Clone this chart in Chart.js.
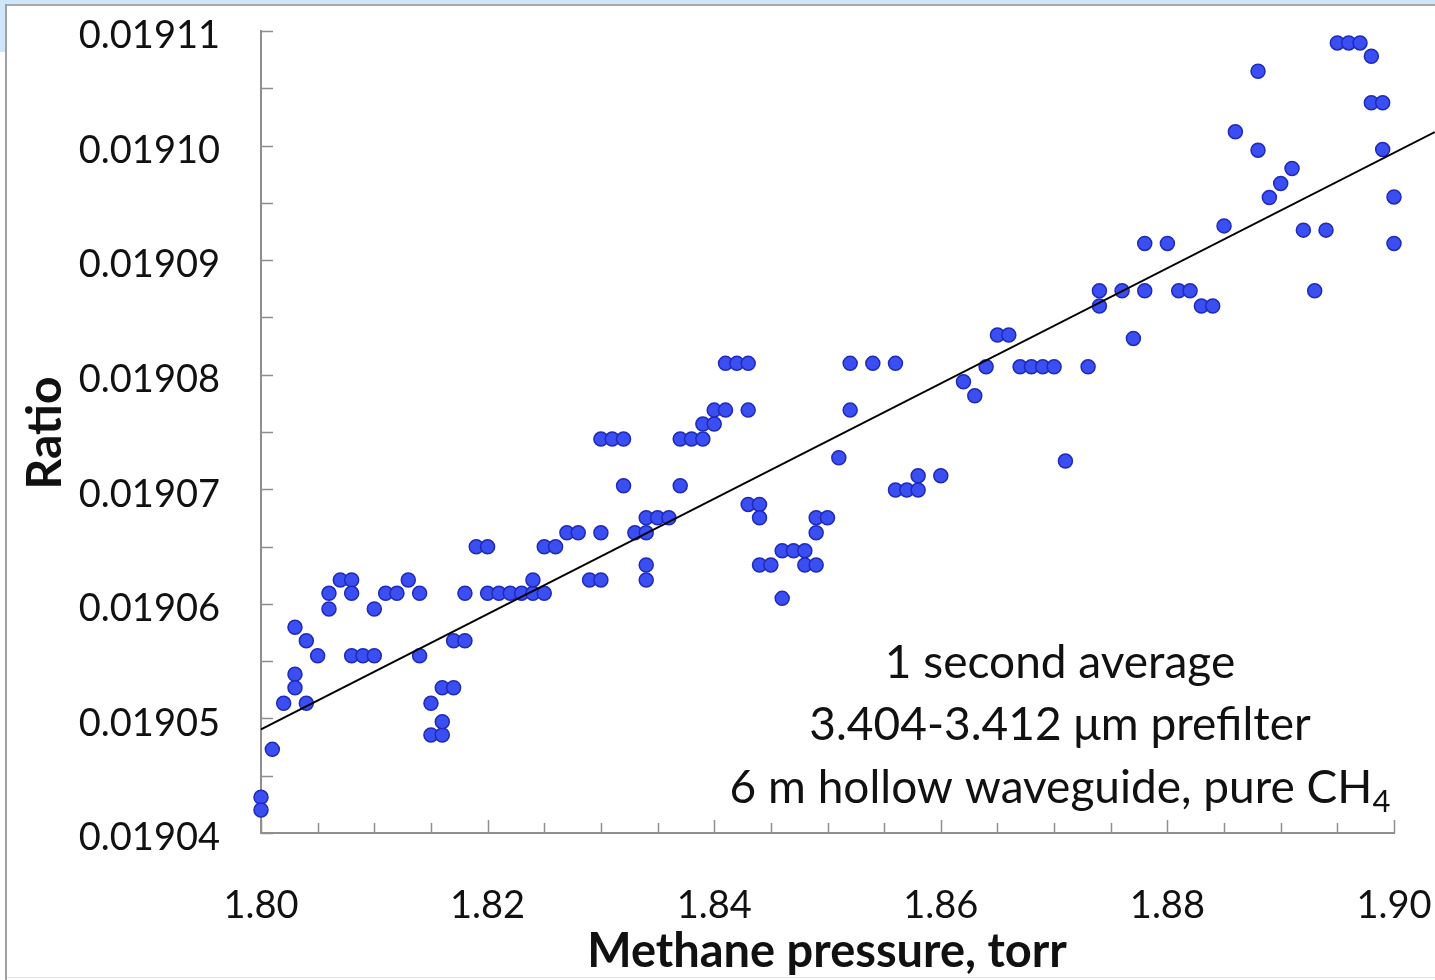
<!DOCTYPE html>
<html><head><meta charset="utf-8">
<script src="https://cdn.jsdelivr.net/npm/chart.js@4.4.1/dist/chart.umd.min.js"></script>
<style>
html,body{margin:0;padding:0;background:#fff;overflow:hidden}
#wrap{position:relative;width:1435px;height:980px}
canvas{position:absolute;left:0;top:0}
.f{position:absolute;pointer-events:none}
</style></head><body>
<div id="wrap">
<canvas id="c" width="1435" height="980"></canvas>
<div class="f" style="left:0;top:0;width:1435px;height:4px;background:#cfe6fa"></div>
<div class="f" style="left:0;top:0;width:5px;height:52px;background:#cfe6fa"></div>
<div class="f" style="left:5px;top:4px;width:1430px;height:2px;background:#a9a9a9"></div>
<div class="f" style="left:5px;top:4px;width:2px;height:976px;background:#a0a0a0"></div>
<div class="f" style="left:7px;top:977px;width:1428px;height:1px;background:#e2e2e2"></div>
</div>
<script>
const pressure = [
1.800,1.800,1.801,1.802,1.803,1.803,1.803,1.804,1.804,1.805,
1.806,1.806,1.807,1.808,1.808,1.808,1.809,1.810,1.810,1.811,
1.812,1.813,1.814,1.814,1.815,1.815,1.816,1.816,1.816,1.817,
1.817,1.818,1.818,1.819,1.820,1.820,1.821,1.822,1.823,1.824,
1.824,1.825,1.825,1.826,1.827,1.828,1.829,1.830,1.830,1.830,
1.831,1.832,1.832,1.833,1.834,1.834,1.834,1.834,1.835,1.836,
1.837,1.837,1.838,1.839,1.839,1.840,1.840,1.841,1.841,1.842,
1.843,1.843,1.843,1.844,1.844,1.844,1.845,1.846,1.846,1.847,
1.848,1.848,1.849,1.849,1.849,1.850,1.851,1.852,1.852,1.854,
1.856,1.856,1.857,1.858,1.858,1.860,1.862,1.863,1.864,1.865,
1.866,1.867,1.868,1.869,1.870,1.871,1.873,1.874,1.874,1.876,
1.877,1.878,1.878,1.880,1.881,1.882,1.883,1.884,1.885,1.886,
1.888,1.888,1.889,1.890,1.891,1.892,1.893,1.894,1.895,1.896,
1.897,1.898,1.898,1.899,1.899,1.900,1.900
];
const ratio = [
0.01904312,0.01904201,0.01904730,0.01905132,0.01905385,0.01905268,0.01905795,0.01905132,0.01905678,0.01905547,
0.01906092,0.01905955,0.01906208,0.01906208,0.01906092,0.01905547,0.01905547,0.01905547,0.01905955,0.01906092,
0.01906092,0.01906208,0.01906092,0.01905547,0.01905132,0.01904855,0.01904855,0.01904971,0.01905268,0.01905268,
0.01905678,0.01905678,0.01906092,0.01906498,0.01906498,0.01906092,0.01906092,0.01906092,0.01906092,0.01906092,
0.01906208,0.01906092,0.01906498,0.01906498,0.01906620,0.01906620,0.01906208,0.01906208,0.01906620,0.01907438,
0.01907438,0.01907438,0.01907031,0.01906620,0.01906620,0.01906751,0.01906339,0.01906208,0.01906751,0.01906751,
0.01907031,0.01907438,0.01907438,0.01907438,0.01907569,0.01907569,0.01907691,0.01907691,0.01908099,0.01908099,
0.01908099,0.01907691,0.01906868,0.01906868,0.01906751,0.01906339,0.01906339,0.01906463,0.01906048,0.01906463,
0.01906463,0.01906339,0.01906339,0.01906620,0.01906751,0.01906751,0.01907275,0.01907691,0.01908099,0.01908099,
0.01908099,0.01906993,0.01906993,0.01906993,0.01907118,0.01907118,0.01907938,0.01907816,0.01908069,0.01908346,
0.01908346,0.01908069,0.01908069,0.01908069,0.01908069,0.01907246,0.01908069,0.01908732,0.01908599,0.01908732,
0.01908317,0.01908732,0.01909146,0.01909146,0.01908732,0.01908732,0.01908599,0.01908599,0.01909299,0.01910120,
0.01910649,0.01909960,0.01909547,0.01909669,0.01909800,0.01909262,0.01908732,0.01909262,0.01910896,0.01910896,
0.01910896,0.01910780,0.01910373,0.01910373,0.01909965,0.01909552,0.01909146
];
const fitPressure = [1.800, 1.9036];
const fitRatio = [0.01904905, 0.01910118];
const xTickValues = [1.80, 1.82, 1.84, 1.86, 1.88, 1.90];
const xTickLabels = ['1.80', '1.82', '1.84', '1.86', '1.88', '1.90'];
const yTickValues = [0.01904, 0.01905, 0.01906, 0.01907, 0.01908, 0.01909, 0.01910, 0.01911];
const yTickLabels = ['0.01904', '0.01905', '0.01906', '0.01907', '0.01908', '0.01909', '0.01910', '0.01911'];
const annotationLines = ['1 second average', '3.404-3.412 \u03bcm prefilter', '6 m hollow waveguide, pure CH'];
const xTitle = 'Methane pressure, torr';
const yTitle = 'Ratio';

const FONT = 'Lato, "Open Sans", sans-serif';
const AXIS = '#8f8f8f';

const deco = {
  id: 'deco',
  beforeDatasetsDraw(chart) {
    const {ctx, chartArea: a, scales: {x, y}} = chart;
    ctx.save();
    ctx.strokeStyle = AXIS;
    ctx.lineWidth = 1.5;
    ctx.beginPath();
    for (let i = 0; i <= 20; i++) {
      const px = Math.round(x.getPixelForValue(1.80 + i * 0.005)) + 0.5;
      const len = (i % 4 === 0) ? 13 : 10;
      ctx.moveTo(px, a.bottom); ctx.lineTo(px, a.bottom - len);
    }
    for (let i = 0; i <= 14; i++) {
      const py = Math.round(y.getPixelForValue(0.01904 + i * 0.000005)) + 0.5;
      ctx.moveTo(a.left, py); ctx.lineTo(a.left + 12, py);
    }
    ctx.stroke();

    ctx.fillStyle = '#111';
    ctx.textAlign = 'center';
    ctx.textBaseline = 'middle';
    ctx.font = 'bold 47px ' + FONT;
    ctx.fillText(xTitle, 827, 952);
    ctx.save();
    ctx.translate(46, 433);
    ctx.rotate(-Math.PI / 2);
    ctx.font = 'bold 48px ' + FONT;
    ctx.fillText(yTitle, 0, 0);
    ctx.restore();

    ctx.font = '46px ' + FONT;
    const cx = 1060;
    ctx.fillText(annotationLines[0], cx, 663);
    ctx.fillText(annotationLines[1], cx, 725);
    const w3 = ctx.measureText(annotationLines[2]).width;
    ctx.font = '31px ' + FONT;
    const ws = ctx.measureText('4').width;
    const start = cx - (w3 + ws) / 2;
    ctx.textAlign = 'left';
    ctx.font = '46px ' + FONT;
    ctx.fillText(annotationLines[2], start, 788);
    ctx.font = '31px ' + FONT;
    ctx.fillText('4', start + w3, 802);
    ctx.restore();
  }
};

const points = pressure.map((p, i) => ({x: p, y: ratio[i]}));
const fit = fitPressure.map((p, i) => ({x: p, y: fitRatio[i]}));

new Chart(document.getElementById('c'), {
  type: 'scatter',
  data: {
    datasets: [
      {
        type: 'line', data: fit, borderColor: '#000', borderWidth: 2,
        pointRadius: 0, fill: false, clip: false, order: 0
      },
      {
        data: points, backgroundColor: 'rgb(58,78,242)', borderColor: 'rgb(30,42,185)',
        borderWidth: 1.5, pointRadius: 7, clip: false, order: 1
      }
    ]
  },
  options: {
    responsive: false,
    animation: false,
    devicePixelRatio: 1,
    layout: {padding: {left: 0, right: 41, top: 31, bottom: 0}},
    plugins: {legend: {display: false}, tooltip: {enabled: false}},
    scales: {
      x: {
        type: 'linear', min: 1.80, max: 1.90,
        afterBuildTicks: s => { s.ticks = xTickValues.map(v => ({value: v})); },
        afterFit: s => { s.height = 147; s.paddingLeft = 0; s.paddingRight = 0; },
        grid: {display: true, drawOnChartArea: false, drawTicks: false},
        border: {display: true, color: AXIS, width: 2},
        ticks: {
          color: '#111', font: {family: FONT, size: 38}, padding: 50, maxRotation: 0,
          callback: (v, i) => xTickLabels[i]
        }
      },
      y: {
        type: 'linear', min: 0.01904, max: 0.01911,
        afterBuildTicks: s => { s.ticks = yTickValues.map(v => ({value: v})); },
        afterFit: s => { s.width = 261; s.paddingTop = 0; s.paddingBottom = 0; },
        grid: {display: true, drawOnChartArea: false, drawTicks: false},
        border: {display: true, color: AXIS, width: 2},
        ticks: {
          color: '#111', font: {family: FONT, size: 38}, padding: 41, labelOffset: 5,
          callback: (v, i) => yTickLabels[i]
        }
      }
    }
  },
  plugins: [deco]
});
</script>
</body></html>
